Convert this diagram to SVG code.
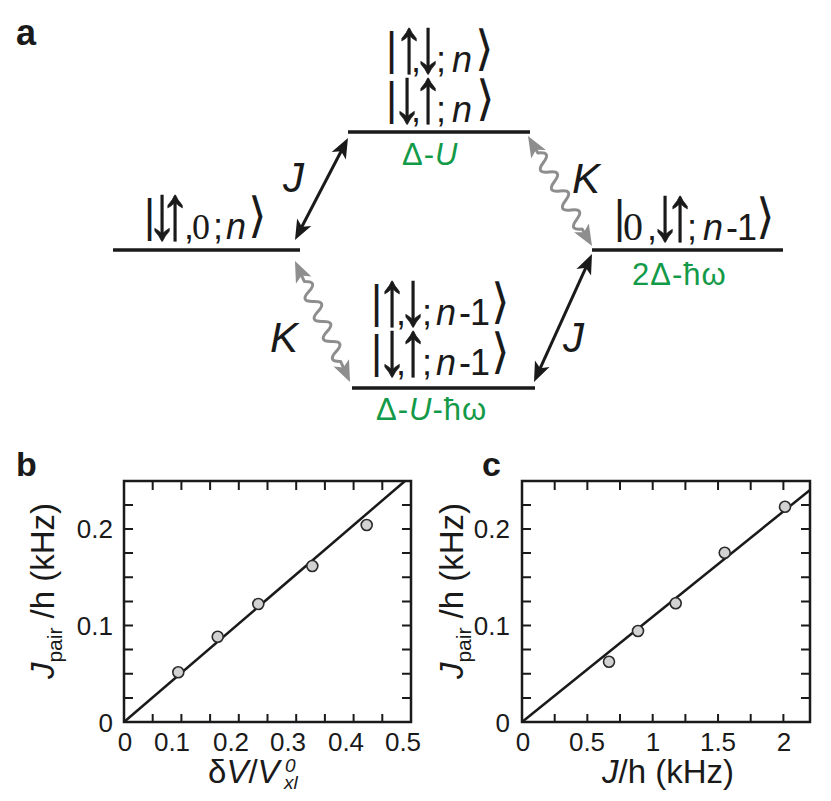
<svg xmlns="http://www.w3.org/2000/svg" width="831" height="801" viewBox="0 0 831 801">
<style>
text { font-family: "Liberation Sans", Arial, sans-serif; fill: #1a1a1a; }
.pl { font-weight: bold; }
.k { font-size: 36px; }
.it { font-style: italic; }
.br { font-family: "DejaVu Sans", sans-serif; font-size: 42px; }
.an { font-family: "DejaVu Sans", sans-serif; font-size: 48px; }
.sf { font-family: "Liberation Serif", serif; }
.ar { font-size: 78px; text-anchor: middle; stroke: #1a1a1a; stroke-width: 0.5px; }
.g { font-size: 31px; fill: #139a48; letter-spacing: 1px; }
.g tspan { fill: #139a48; }
.lab { font-size: 42px; font-style: italic; }
.tk { font-size: 26px; }
.at { font-size: 33px; }
.lvl { stroke: #1a1a1a; stroke-width: 3.5; fill: none; }
.ja { stroke: #1a1a1a; stroke-width: 3; fill: none; marker-start: url(#hb); marker-end: url(#hb); }
.ka { stroke: #8e8e8e; stroke-width: 3; fill: none; marker-start: url(#hg); marker-end: url(#hg); stroke-linecap: round; stroke-linejoin: round; }
.fr { fill: none; stroke: #1a1a1a; stroke-width: 2.5; }
.tick { fill: none; stroke: #1a1a1a; stroke-width: 2; }
.fit { fill: none; stroke: #1a1a1a; stroke-width: 2.5; }
.pt { fill: #d2d2d2; stroke: #2a2a2a; stroke-width: 1.6; }
</style>
<defs>
<marker id="hb" markerUnits="userSpaceOnUse" markerWidth="40" markerHeight="40" refX="-5" refY="0" orient="auto-start-reverse" overflow="visible">
<path d="M0,0 L-20,-8 L-15,0 L-20,8 Z" fill="#1a1a1a"/>
</marker>
<marker id="hg" markerUnits="userSpaceOnUse" markerWidth="40" markerHeight="40" refX="-5" refY="0" orient="auto-start-reverse" overflow="visible">
<path d="M0,0 L-21,-8.5 L-16,0 L-21,8.5 Z" fill="#8e8e8e"/>
</marker>
</defs>
<rect width="831" height="801" fill="#ffffff"/>

<g id="panel-a">
<text class="pl" x="16" y="45" font-size="36">a</text>

<g id="level-left">
<line class="lvl" x1="113" y1="250" x2="300" y2="250"/>
<text class="k" y="239"><tspan class="br" x="142.5" y="231">|</tspan><tspan x="184" y="239">,</tspan><tspan class="sf" x="192">0</tspan><tspan x="213">;</tspan><tspan class="it" x="226">n</tspan><tspan class="an" x="248" y="232">⟩</tspan></text>
<text class="ar" transform="translate(162 239) scale(0.8 1)">↓</text>
<text class="ar" transform="translate(175 239) scale(0.8 1)">↑</text>
</g>

<g id="level-top">
<line class="lvl" x1="348" y1="132" x2="530" y2="132"/>
<text class="k" y="72"><tspan class="br" x="384.5" y="64">|</tspan><tspan x="411" y="72">,</tspan><tspan x="436">;</tspan><tspan class="it" x="452">n</tspan><tspan class="an" x="475" y="65">⟩</tspan></text>
<text class="ar" transform="translate(409 72) scale(0.8 1)">↑</text>
<text class="ar" transform="translate(428 72) scale(0.8 1)">↓</text>
<text class="k" y="122"><tspan class="br" x="384.5" y="114">|</tspan><tspan x="411" y="122">,</tspan><tspan x="436">;</tspan><tspan class="it" x="452">n</tspan><tspan class="an" x="476" y="115">⟩</tspan></text>
<text class="ar" transform="translate(407 122) scale(0.8 1)">↓</text>
<text class="ar" transform="translate(428 122) scale(0.8 1)">↑</text>
<text class="g" x="402" y="165">Δ-<tspan class="it">U</tspan></text>
</g>

<g id="level-right">
<line class="lvl" x1="592" y1="250" x2="783" y2="250"/>
<text class="k" y="240"><tspan class="br" x="612.5" y="232">|</tspan><tspan class="sf" x="623" y="240" font-size="40">0</tspan><tspan x="647">,</tspan><tspan x="687">;</tspan><tspan class="it" x="703">n</tspan><tspan x="726">-</tspan><tspan x="737">1</tspan><tspan class="an" x="756" y="233">⟩</tspan></text>
<text class="ar" transform="translate(665 240) scale(0.8 1)">↓</text>
<text class="ar" transform="translate(680 240) scale(0.8 1)">↑</text>
<text class="g" x="632" y="285">2Δ-ħω</text>
</g>

<g id="level-bottom">
<line class="lvl" x1="352" y1="388" x2="535" y2="388"/>
<text class="k" y="325"><tspan class="br" x="369.5" y="317">|</tspan><tspan x="396" y="325">,</tspan><tspan x="422">;</tspan><tspan class="it" x="436">n</tspan><tspan x="459">-</tspan><tspan x="470">1</tspan><tspan class="an" x="491" y="318">⟩</tspan></text>
<text class="ar" transform="translate(392 325) scale(0.8 1)">↑</text>
<text class="ar" transform="translate(413 325) scale(0.8 1)">↓</text>
<text class="k" y="375"><tspan class="br" x="369.5" y="367">|</tspan><tspan x="396" y="375">,</tspan><tspan x="422">;</tspan><tspan class="it" x="436">n</tspan><tspan x="459">-</tspan><tspan x="470">1</tspan><tspan class="an" x="491" y="368">⟩</tspan></text>
<text class="ar" transform="translate(392 375) scale(0.8 1)">↓</text>
<text class="ar" transform="translate(413 375) scale(0.8 1)">↑</text>
<text class="g" x="376" y="420">Δ-<tspan class="it">U</tspan>-ħω</text>
</g>

<g id="connectors">
<g transform="translate(295 240) rotate(-62.54)"><path class="ja" d="M5,0 H109.9"/></g>
<g transform="translate(295 261) rotate(65.56)"><path class="ka" d="M5,0 H22.45 q5.5,-13 11,0 t11,0 t11,0 t11,0 t11,0 t11,0 t11,0 t11,0 H127.9"/></g>
<g transform="translate(528 136) rotate(59.81)"><path class="ka" d="M5,0 H19.65 q5.5,-13 11,0 t11,0 t11,0 t11,0 t11,0 t11,0 t11,0 t11,0 H122.3"/></g>
<g transform="translate(592 254) rotate(114.38)"><path class="ja" d="M5,0 H135.5"/></g>
<text class="lab" x="283" y="192">J</text>
<text class="lab" x="270" y="352">K</text>
<text class="lab" x="572" y="193">K</text>
<text class="lab" x="563" y="352">J</text>
</g>
</g>

<g id="panel-b">
<text class="pl" x="16" y="476" font-size="34">b</text>
<rect class="fr" x="124" y="481" width="287" height="241"/>
<path class="tick" d="M152.7,722v-8M181.4,722v-8M210.1,722v-8M238.8,722v-8M267.5,722v-8M296.2,722v-8M324.9,722v-8M353.6,722v-8M382.3,722v-8
M152.7,481v9M181.4,481v9M210.1,481v9M238.8,481v9M267.5,481v9M296.2,481v9M324.9,481v9M353.6,481v9M382.3,481v9
M124,697.9h9M124,673.75h9M124,649.6h9M124,625.5h9M124,601.4h9M124,577.25h9M124,553.1h9M124,529h9M124,504.9h9
M411,697.9h-9M411,673.75h-9M411,649.6h-9M411,625.5h-9M411,601.4h-9M411,577.25h-9M411,553.1h-9M411,529h-9M411,504.9h-9"/>
<g text-anchor="middle">
<text class="tk" x="125" y="751">0</text>
<text class="tk" x="172" y="751">0.1</text>
<text class="tk" x="231" y="751">0.2</text>
<text class="tk" x="288" y="751">0.3</text>
<text class="tk" x="346" y="751">0.4</text>
<text class="tk" x="403" y="751">0.5</text>
</g>
<g text-anchor="end">
<text class="tk" x="113" y="538">0.2</text>
<text class="tk" x="113" y="635">0.1</text>
<text class="tk" x="113" y="732">0</text>
</g>
<line class="fit" x1="124" y1="722" x2="405" y2="481"/>
<circle class="pt" cx="178.3" cy="672.3" r="5.5"/>
<circle class="pt" cx="217.7" cy="636.7" r="5.5"/>
<circle class="pt" cx="258.3" cy="604" r="5.5"/>
<circle class="pt" cx="312.3" cy="566" r="5.5"/>
<circle class="pt" cx="366.7" cy="525" r="5.5"/>
<text class="at" transform="translate(54 591) rotate(-90)" text-anchor="middle"><tspan class="it">J</tspan><tspan font-size="21" dy="8">pair</tspan><tspan dy="-8"> /h (kHz)</tspan></text>
<text class="at" x="208" y="783">δ<tspan class="it">V</tspan>/<tspan class="it">V</tspan></text>
<text class="it" x="285" y="772" font-size="19">0</text>
<text class="it" x="284" y="789" font-size="19">xl</text>
</g>

<g id="panel-c">
<text class="pl" x="482" y="476" font-size="34">c</text>
<rect class="fr" x="522" y="481" width="288" height="241"/>
<path class="tick" d="M554.7,722v-8M587.35,722v-8M620,722v-8M652.7,722v-8M685.4,722v-8M718.05,722v-8M750.7,722v-8M783.4,722v-8
M554.7,481v9M587.35,481v9M620,481v9M652.7,481v9M685.4,481v9M718.05,481v9M750.7,481v9M783.4,481v9
M522,697.9h9M522,673.75h9M522,649.6h9M522,625.5h9M522,601.4h9M522,577.25h9M522,553.1h9M522,529h9M522,504.9h9
M810,697.9h-9M810,673.75h-9M810,649.6h-9M810,625.5h-9M810,601.4h-9M810,577.25h-9M810,553.1h-9M810,529h-9M810,504.9h-9"/>
<g text-anchor="middle">
<text class="tk" x="523" y="751">0</text>
<text class="tk" x="587" y="751">0.5</text>
<text class="tk" x="653" y="751">1</text>
<text class="tk" x="718" y="751">1.5</text>
<text class="tk" x="784" y="751">2</text>
</g>
<g text-anchor="end">
<text class="tk" x="510" y="538">0.2</text>
<text class="tk" x="510" y="635">0.1</text>
<text class="tk" x="510" y="732">0</text>
</g>
<line class="fit" x1="522" y1="722" x2="810" y2="490"/>
<circle class="pt" cx="609" cy="661.7" r="5.5"/>
<circle class="pt" cx="638" cy="631" r="5.5"/>
<circle class="pt" cx="675.7" cy="603.3" r="5.5"/>
<circle class="pt" cx="724.7" cy="552.7" r="5.5"/>
<circle class="pt" cx="785" cy="506.7" r="5.5"/>
<text class="at" transform="translate(463 591) rotate(-90)" text-anchor="middle"><tspan class="it">J</tspan><tspan font-size="21" dy="8">pair</tspan><tspan dy="-8"> /h (kHz)</tspan></text>
<text class="at" x="668" y="783" text-anchor="middle"><tspan class="it">J</tspan>/h (kHz)</text>
</g>
</svg>
